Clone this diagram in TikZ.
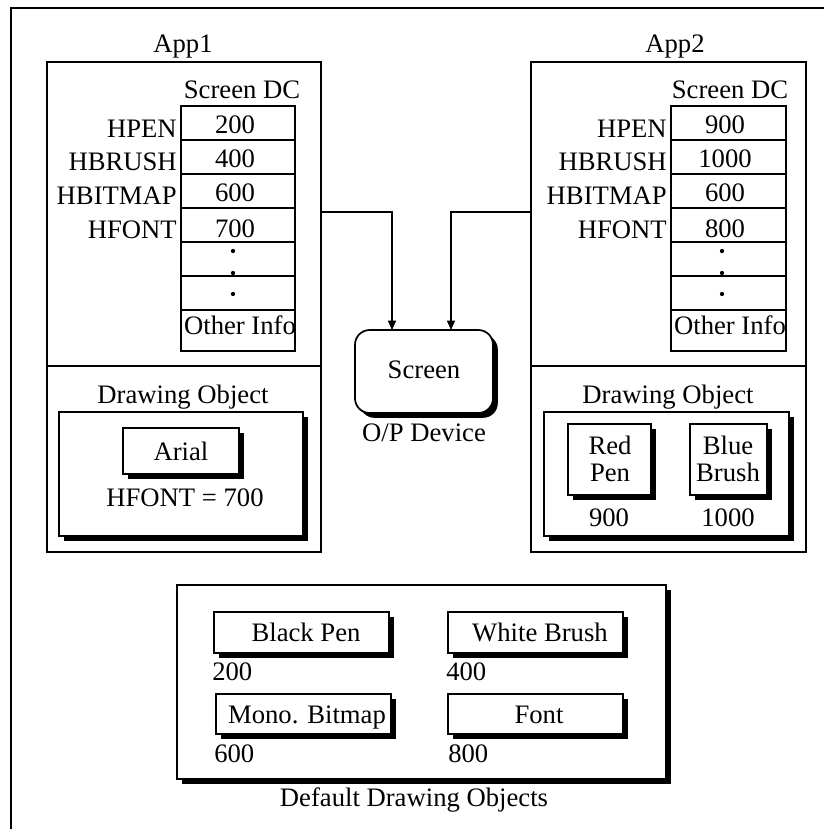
\documentclass[tikz,border=0pt]{standalone}
\usepackage{fontspec}
\setmainfont{Liberation Serif}
\usetikzlibrary{fit,shadows,arrows.meta}
\begin{document}
\begin{tikzpicture}[x=0.75pt,y=-0.75pt,
  font=\fontsize{20}{19}\selectfont,
  box/.style={draw,line width=1.3pt,inner sep=0pt,fill=white},
  sbox/.style={box,drop shadow={shadow xshift=3.6pt,shadow yshift=-3.6pt,fill=black,opacity=1}},
  cell/.style={draw,line width=1.3pt,inner sep=0pt},
  txt/.style={inner sep=0pt,anchor=base},
  two/.style={inner sep=0pt,align=center,font=\fontsize{20}{20.5}\selectfont},
  lbl/.style={inner sep=0pt,anchor=base east},
  lft/.style={inner sep=0pt,anchor=base west},
  conn/.style={line width=1.1pt,-{Triangle[length=7pt,width=6pt]}},
  dotm/.style={circle,fill=black,inner sep=0pt,minimum size=3.2pt}]
\useasboundingbox (0,0) rectangle (824,829);
% outer frame
\coordinate (fbl) at (11,829);
\coordinate (ftl) at (11,8);
\coordinate (ftr) at (824,8);
\draw[line width=1.3pt] (fbl) -- (ftl) -- (ftr);

% ---------- App1 ----------
\node[txt] (app1lbl) at (183,52) {App1};
\node[box,fit={(47,62)(321,552)}] (app1) {};
\coordinate (d1) at (0,366);
\draw[line width=1.3pt] (app1.west |- d1) -- (app1.east |- d1);
\node[txt] (sdc1) at (242,98) {Screen DC};
\node[cell,fit={(181,106)(295,140)}] (a1c1) {};
\node[cell,fit={(181,140)(295,174)}] (a1c2) {};
\node[cell,fit={(181,174)(295,208)}] (a1c3) {};
\node[cell,fit={(181,208)(295,242)}] (a1c4) {};
\node[cell,fit={(181,242)(295,276)}] (a1c5) {};
\node[cell,fit={(181,276)(295,310)}] (a1c6) {};
\node[cell,fit={(181,310)(295,351)}] (a1c7) {};
\node[lbl] (a1l1) at (177,137) {HPEN};
\node[lbl] (a1l2) at (177,170) {HBRUSH};
\node[lbl] (a1l3) at (177,204) {HBITMAP};
\node[lbl] (a1l4) at (177,238) {HFONT};
\node[txt] (a1v1) at (235,133) {200};
\node[txt] (a1v2) at (235,167) {400};
\node[txt] (a1v3) at (235,201) {600};
\node[txt] (a1v4) at (235,237) {700};
\node[dotm] (a1d1) at (233,251) {};
\node[dotm] (a1d2) at (233,273) {};
\node[dotm] (a1d3) at (233,294) {};
\node[txt] (a1oi) at (240,334) {Other Info};
\node[txt] (do1lbl) at (183,403) {Drawing Object};
\node[sbox,fit={(59,412)(303,536)}] (do1) {};
\node[sbox,fit={(123,428)(239,474)}] (arial) {};
\node[txt] (arialt) at (181,460) {Arial};
\node[txt] (hf1) at (185,506) {HFONT = 700};

% ---------- App2 ----------
\node[txt] (app2lbl) at (675,52) {App2};
\node[box,fit={(531,62)(806,552)}] (app2) {};
\draw[line width=1.3pt] (app2.west |- d1) -- (app2.east |- d1);
\node[txt] (sdc2) at (730,98) {Screen DC};
\node[cell,fit={(671,106)(786,140)}] (a2c1) {};
\node[cell,fit={(671,140)(786,174)}] (a2c2) {};
\node[cell,fit={(671,174)(786,208)}] (a2c3) {};
\node[cell,fit={(671,208)(786,242)}] (a2c4) {};
\node[cell,fit={(671,242)(786,276)}] (a2c5) {};
\node[cell,fit={(671,276)(786,310)}] (a2c6) {};
\node[cell,fit={(671,310)(786,351)}] (a2c7) {};
\node[lbl] (a2l1) at (667,137) {HPEN};
\node[lbl] (a2l2) at (667,170) {HBRUSH};
\node[lbl] (a2l3) at (667,204) {HBITMAP};
\node[lbl] (a2l4) at (667,238) {HFONT};
\node[txt] (a2v1) at (725,133) {900};
\node[txt] (a2v2) at (725,167) {1000};
\node[txt] (a2v3) at (725,201) {600};
\node[txt] (a2v4) at (725,237) {800};
\node[dotm] (a2d1) at (722,251) {};
\node[dotm] (a2d2) at (722,273) {};
\node[dotm] (a2d3) at (722,294) {};
\node[txt] (a2oi) at (730,334) {Other Info};
\node[txt] (do2lbl) at (668,403) {Drawing Object};
\node[sbox,fit={(544,412)(789,536)}] (do2) {};
\node[sbox,fit={(568,424)(651,495)}] (redpen) {};
\node[sbox,fit={(690,424)(767,495)}] (bluebrush) {};
\node[two] (rpt) at (610,459) {Red\\Pen};
\node[two] (bbt) at (728,459) {Blue\\Brush};
\node[txt] (v900) at (609,526) {900};
\node[txt] (v1000) at (728,526) {1000};

% ---------- Screen ----------
\node[sbox,rounded corners=11pt,fit={(355,330)(493,413)}] (screen) {};
\node[txt] (screent) at (424,378) {Screen};
\node[txt] (opdev) at (424,441) {O/P Device};
\coordinate (o1) at (321,212);
\coordinate (o2) at (531,212);
\coordinate (s1) at (392,330);
\coordinate (s2) at (451,330);
\draw[conn] (o1) -| (s1);
\draw[conn] (o2) -| (s2);

% ---------- Default Drawing Objects ----------
\node[sbox,fit={(177,585)(666,779)}] (def) {};
\node[sbox,fit={(214,612)(389,653)}] (blackpen) {};
\node[sbox,fit={(448,612)(623,653)}] (whitebrush) {};
\node[sbox,fit={(216,694)(391,734)}] (mono) {};
\node[sbox,fit={(448,694)(623,734)}] (fontb) {};
\node[txt] (bpt) at (306,641) {Black Pen};
\node[txt] (wbt) at (540,641) {White Brush};
\node[txt] (mbt) at (307,723) {Mono. Bitmap};
\node[txt] (fnt) at (539,723) {Font};
\node[lft] (v200) at (212,680) {200};
\node[lft] (v400) at (446,680) {400};
\node[lft] (v600) at (214,762) {600};
\node[lft] (v800) at (448,762) {800};
\node[txt] (deflbl) at (414,806) {Default Drawing Objects};
\end{tikzpicture}
\end{document}
